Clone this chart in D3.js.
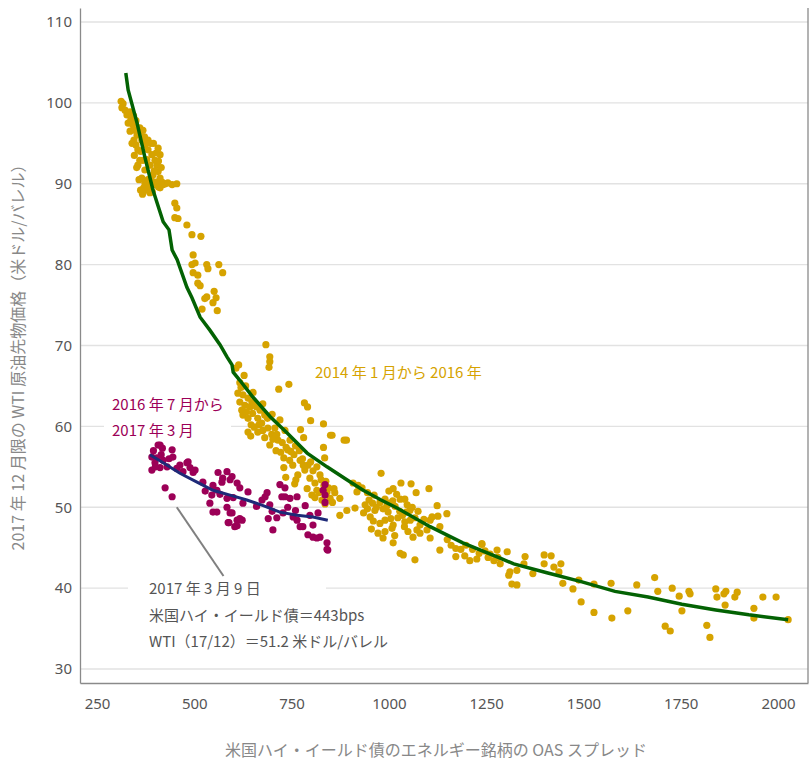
<!DOCTYPE html>
<html>
<head>
<meta charset="utf-8">
<script src="https://cdn.jsdelivr.net/npm/d3@7"></script>
<style>
  body { margin: 0; background: #fff; }
  text { font-family: "Noto Sans CJK JP", "Noto Sans", sans-serif; }
</style>
</head>
<body>
<div id="chart"></div>
<script>
const SVG_WIDTH = 811;
const SVG_HEIGHT = 760;
const PLOT = { left: 80, right: 808, top: 8, bottom: 683 };

const X_TICKS = [250, 500, 750, 1000, 1250, 1500, 1750, 2000];
const Y_TICKS = [30, 40, 50, 60, 70, 80, 90, 100, 110];
const X_AXIS_LABEL = "米国ハイ・イールド債のエネルギー銘柄の OAS スプレッド";
const Y_AXIS_LABEL = "2017 年 12 月限の WTI 原油先物価格（米ドル/バレル）";

// 2014年1月〜2016年 : [OAS bps, WTI price]
const goldPoints = [
  [312,100.2],[317,99.9],[314,99.4],[322,99.1],[327,98.5],[335,98.9],[337,97.9],[342,97.3],[348,96.6],[353,96.0],
  [345,95.4],[360,96.9],[368,96.6],[365,95.4],[355,94.2],[373,94.8],[360,92.9],[381,94.2],[391,93.6],[399,92.9],
  [386,92.3],[404,92.3],[373,91.7],[365,90.7],[381,90.5],[394,91.1],[407,91.5],[412,90.7],[399,89.9],[376,89.2],
  [386,88.9],[412,89.5],[373,90.1],[425,90.0],[443,89.9],[455,90.0],[368,92.9],[381,95.4],[407,94.4],[412,93.6],
  [355,92.3],[350,94.8],[378,93.0],[395,95.0],[402,90.2],[370,89.5],
  [340,95.0],[346,93.5],[352,92.0],[358,90.5],[362,89.2],[367,88.7],[384,89.7],[390,90.4],[397,91.6],[402,93.8],
  [408,92.8],[415,92.0],[417,90.2],[392,89.0],[362,94.0],[335,96.5],[330,97.5],[344,98.4],[350,97.8],[357,96.3],
  [372,95.8],[388,95.0],[408,89.6],[420,89.9],[432,90.1],
  [450,87.6],[455,87.0],[450,85.8],[458,85.7],[481,84.9],[494,83.7],[517,83.5],[497,81.2],[502,80.2],[494,80.0],
  [497,79.0],[509,78.7],[532,80.0],[535,79.5],[563,80.0],[573,79.0],[509,77.7],[515,77.4],[532,76.0],[527,75.8],
  [551,76.7],[556,75.9],[548,75.3],[559,74.3],[520,74.5],
  [684,70.1],[694,68.6],[694,68.0],[692,67.3],[614,67.6],[743,65.2],[717,64.6],[783,62.9],[791,62.4],[799,60.7],
  [832,60.3],[850,58.9],[891,58.3],[773,59.6],[781,58.6],[832,57.4],[835,56.1],[799,55.6],[730,54.9],[735,53.7],
  [761,53.4],[758,52.9],
  [612,64.1],[625,63.9],[638,63.5],[651,64.2],[617,63.0],[630,62.6],[643,62.4],[655,62.6],[669,62.0],[625,61.4],
  [638,61.0],[663,61.0],[681,61.4],[646,60.2],[673,60.4],[689,59.8],[663,59.3],[681,58.6],[699,59.0],[638,59.3],
  [694,57.7],[707,59.8],[720,60.8],[733,59.5],[715,58.3],[746,58.3],[740,57.1],[756,56.5],[730,56.1],[753,55.2],
  [772,55.8],[784,54.6],[766,54.0],[797,53.6],[810,53.0],[823,54.0],[815,52.1],[833,52.7],[841,51.9],[802,51.5],
  [828,50.9],[849,51.1],[607,67.2],[617,65.4],[628,66.3],[620,64.8],[632,65.0],[650,61.6],[676,62.8],[700,61.5],
  [710,57.0],[722,56.8],[745,55.8],[790,52.3],[780,55.2],
  [622,62.0],[634,61.8],[648,63.0],[660,62.4],[666,60.2],[654,59.9],[645,58.8],[676,59.5],[688,61.0],[702,58.4],
  [712,59.0],[726,58.0],[736,57.4],[748,56.9],[760,57.6],[770,57.0],[778,56.0],[792,55.2],[805,54.5],[815,55.0],
  [826,53.4],[838,53.2],[845,52.4],[820,51.8],[810,51.2],[836,50.4],[855,50.6],[859,52.3],
  [854,58.9],[885,58.3],[980,54.2],[1031,53.0],[1057,52.9],[1011,52.3],[1070,51.8],[1103,52.3],[908,53.0],[921,52.7],
  [931,52.4],[918,51.9],[861,51.8],[874,51.1],[892,49.6],[913,49.9],[874,49.0],[935,49.3],[977,50.6],[1003,50.5],
  [1029,51.0],[1047,50.3],[952,48.8],[990,48.4],[1008,47.4],[972,46.8],[985,46.2],[1011,45.6],[1029,44.3],[1037,44.1],
  [1049,47.0],[1072,47.2],[1106,48.4],[1124,50.2],[1111,48.8],[1126,48.9],[1149,49.2],[1131,47.6],[1106,46.2],[1062,46.3],
  [1080,46.8],[1131,44.7],[1198,45.3],[1239,45.4],[1247,44.6],[1172,44.9],[1172,43.9],[1208,43.4],[1226,43.6],[1278,44.7],
  [1280,43.8],[1067,43.5],[949,50.9],[962,51.5],[990,51.0],[1016,50.1],[1041,51.0],[1054,49.6],[998,49.4],[1023,48.7],
  [964,49.6],[939,50.3],[977,48.0],[1011,47.8],[1041,48.2],[1067,48.7],[1080,47.8],[1098,47.2],[1000,52.0],[1035,49.0],
  [955,47.3],
  [945,51.8],[958,50.5],[968,50.0],[985,49.8],[995,50.2],[1010,50.8],[1020,51.6],[1045,49.4],[1060,50.0],[1028,49.5],
  [1005,48.6],[1040,47.6],[1055,48.4],[990,47.0],[960,48.3],[945,49.8],[1015,46.5],[1075,49.5],[1090,48.5],
  [1150,46.0],[1160,45.3],[1185,44.8],[1195,44.0],[1215,44.8],[1232,44.3],[1260,44.2],[1270,43.4],
  [1239,45.5],[1255,43.8],[1304,44.5],[1286,43.0],[1311,42.0],[1316,40.5],[1329,40.4],[1308,41.6],[1329,42.2],[1347,43.0],
  [1350,43.9],[1370,41.8],[1399,44.1],[1417,44.0],[1399,43.0],[1424,42.6],[1442,43.0],[1437,42.0],[1447,40.6],[1473,39.9],
  [1494,38.3],[1488,41.0],[1527,40.5],[1527,37.0],[1571,40.6],[1573,36.3],[1614,37.2],[1637,40.4],[1683,41.3],[1691,39.6],
  [1710,35.3],[1723,34.7],[1728,40.0],[1746,39.0],[1753,37.2],[1771,39.6],[1774,39.3],[1817,35.4],[1825,33.9],[1840,39.9],
  [1843,38.9],[1861,39.3],[1866,39.6],[1864,37.9],[1889,38.9],[1895,39.5],[1938,37.5],[1938,36.3],[1961,38.9],[1995,38.9],
  [2026,36.1]
];

// 2016年7月〜2017年3月
const purplePoints = [
  [407,57.7],[418,57.3],[443,57.1],[391,56.2],[404,56.1],[420,55.8],[399,55.5],[391,54.6],[412,54.9],[430,55.0],
  [445,56.2],[463,55.2],[481,55.5],[489,54.9],[497,54.3],[471,54.4],[425,52.4],[443,51.3],[522,53.1],[561,54.3],
  [584,54.4],[592,53.4],[571,53.1],[548,52.7],[610,53.0],[617,52.4],[638,51.9],[545,51.5],[540,50.5],[558,49.4],
  [584,50.0],[592,49.3],[610,48.4],[617,48.6],[587,48.1],[604,47.6],[687,51.8],[674,50.9],[694,50.3],[733,52.4],
  [725,51.3],[746,51.1],[764,51.3],[712,48.7],[702,47.2],[728,49.3],[764,48.4],[779,47.6],[797,49.0],[818,49.3],
  [805,46.3],[823,46.3],[841,45.6],[843,44.7],[836,52.8],[836,51.5],[836,50.6],[412,57.7],[395,57.0],[484,55.6],
  [502,54.6],[573,53.6],[597,53.8],[558,52.1],[584,51.1],[548,49.4],[597,49.3],[623,48.4],[589,48.1],[610,47.7],
  [682,51.3],[733,51.3],[754,48.8],[772,47.6],[792,46.6],[815,46.2],[841,44.8],[831,52.1],[400,55.0],[415,56.5],
  [435,56.0],[455,54.8],[528,52.0],[566,51.6],[600,51.2],[625,50.5],[660,50.1],[700,49.5],[740,50.0],[760,49.6],
  [785,50.2],[805,47.8],[720,52.8],[690,48.6]
];

const goldTrend = [
  [324,103.7],[330,101.6],[353,97.5],[373,93.3],[394,89.2],[420,85.3],[435,84.3],[443,81.8],[456,80.6],[481,77.2],
  [494,75.9],[515,73.5],[540,71.9],[566,70.1],[584,68.6],[597,67.6],[600,66.7],[617,65.7],[651,63.6],[695,61.2],
  [738,59.2],[790,56.7],[841,55.0],[892,53.4],[934,52.1],[980,50.9],[1021,49.9],[1106,47.6],[1190,45.6],[1286,43.7],
  [1321,43.0],[1406,41.9],[1494,40.8],[1581,39.6],[1666,38.9],[1753,38.0],[1840,37.3],[1925,36.7],[2026,36.1]
];

const purpleTrend = [
  [386,56.5],[420,55.5],[463,54.2],[507,53.1],[548,52.1],[592,51.5],[635,50.9],[677,50.2],[720,49.4],[764,49.0],
  [805,48.8],[843,48.4]
];

const GOLD = "#d6a300";
const PURPLE = "#9c0057";
const GREEN = "#036203";
const NAVY = "#1e2a78";
const TEXT_GREY = "#555";

const svg = d3.select("#chart").append("svg")
    .attr("width", SVG_WIDTH)
    .attr("height", SVG_HEIGHT);

const xScale = d3.scaleLinear().domain([206.3, 2077]).range([PLOT.left, PLOT.right]);
const yScale = d3.scaleLinear().domain([28.27, 111.73]).range([PLOT.bottom, PLOT.top]);

// gridlines
svg.append("g")
    .selectAll("line")
    .data(Y_TICKS)
    .join("line")
    .attr("x1", PLOT.left)
    .attr("x2", PLOT.right)
    .attr("y1", d => yScale(d))
    .attr("y2", d => yScale(d))
    .attr("stroke", "#e2e2e2")
    .attr("stroke-width", 1.3);

// axes
const xAxis = svg.append("g")
    .attr("transform", `translate(0,${PLOT.bottom})`)
    .call(d3.axisBottom(xScale).tickValues(X_TICKS).tickFormat(d3.format("d")).tickSize(0).tickPadding(15));
const yAxis = svg.append("g")
    .attr("transform", `translate(${PLOT.left},0)`)
    .call(d3.axisLeft(yScale).tickValues(Y_TICKS).tickSize(0).tickPadding(8));

[xAxis, yAxis].forEach(a => {
    a.select(".domain").attr("stroke", "#8a8a8a").attr("stroke-width", 1.3);
    a.selectAll("text")
        .attr("fill", TEXT_GREY)
        .style("font-family", "'Noto Sans', sans-serif")
        .style("font-size", "15px");
});
xAxis.selectAll("text").attr("dy", "0.71em");

svg.append("line")
    .attr("x1", PLOT.right).attr("x2", PLOT.right)
    .attr("y1", PLOT.top).attr("y2", PLOT.bottom)
    .attr("stroke", "#8a8a8a").attr("stroke-width", 1.3);

// label backgrounds covering gridlines
svg.append("rect").attr("x", 104).attr("y", 391).attr("width", 127).attr("height", 50).attr("fill", "#fff");
svg.append("rect").attr("x", 128).attr("y", 572).attr("width", 198).attr("height", 82).attr("fill", "#fff");

// annotation leader line
const leader = [[455, 50.0], [575, 41.5]];
svg.append("line")
    .attr("x1", xScale(leader[0][0])).attr("y1", yScale(leader[0][1]))
    .attr("x2", xScale(leader[1][0])).attr("y2", yScale(leader[1][1]))
    .attr("stroke", "#808080")
    .attr("stroke-width", 2);

// points
svg.append("g")
    .selectAll("circle")
    .data(goldPoints)
    .join("circle")
    .attr("cx", d => xScale(d[0]))
    .attr("cy", d => yScale(d[1]))
    .attr("r", 3.6)
    .attr("fill", GOLD);

svg.append("g")
    .selectAll("circle")
    .data(purplePoints)
    .join("circle")
    .attr("cx", d => xScale(d[0]))
    .attr("cy", d => yScale(d[1]))
    .attr("r", 3.6)
    .attr("fill", PURPLE);

const line = d3.line().x(d => xScale(d[0])).y(d => yScale(d[1]));

svg.append("path")
    .datum(goldTrend)
    .attr("d", line)
    .attr("fill", "none")
    .attr("stroke", GREEN)
    .attr("stroke-width", 3.5);

svg.append("path")
    .datum(purpleTrend)
    .attr("d", line)
    .attr("fill", "none")
    .attr("stroke", NAVY)
    .attr("stroke-width", 3);

// series labels
svg.append("text").attr("x", 315).attr("y", 378)
    .attr("fill", GOLD).style("font-size", "15px")
    .text("2014 年 1 月から 2016 年");
svg.append("text").attr("x", 112).attr("y", 410)
    .attr("fill", PURPLE).style("font-size", "15px")
    .text("2016 年 7 月から");
svg.append("text").attr("x", 112).attr("y", 436)
    .attr("fill", PURPLE).style("font-size", "15px")
    .text("2017 年 3 月");

// annotation text
const NOTE_LINES = ["2017 年 3 月 9 日", "米国ハイ・イールド債＝443bps", "WTI（17/12）＝51.2 米ドル/バレル"];
svg.append("g")
    .selectAll("text")
    .data(NOTE_LINES)
    .join("text")
    .attr("x", 149)
    .attr("y", (d, i) => 594 + i * 26.5)
    .attr("fill", TEXT_GREY)
    .style("font-size", "15px")
    .text(d => d);

// axis titles
svg.append("text")
    .attr("x", 436).attr("y", 756)
    .attr("text-anchor", "middle")
    .attr("fill", "#888")
    .style("font-size", "16px")
    .text(X_AXIS_LABEL);

svg.append("text")
    .attr("transform", `translate(24, ${(PLOT.top + PLOT.bottom) / 2 + 8}) rotate(-90)`)
    .attr("text-anchor", "middle")
    .attr("fill", "#888")
    .style("font-size", "16px")
    .text(Y_AXIS_LABEL);
</script>
</body>
</html>
